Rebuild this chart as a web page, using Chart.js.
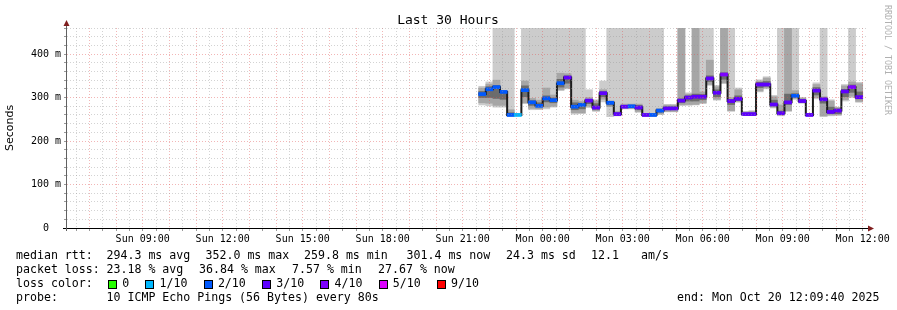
<!DOCTYPE html>
<html>
<head>
<meta charset="utf-8">
<script src="https://cdn.jsdelivr.net/npm/chart.js@4.4.1/dist/chart.umd.min.js"></script>
<style>
  body { margin: 0; background: #fff; }
  #wrap { position: relative; width: 897px; height: 310px; overflow: hidden; background: #fff; }
  #wrap canvas { position: absolute; left: 0; top: 0; }
  .txt { position: absolute; font-family: "DejaVu Sans Mono", monospace; font-size: 11.6px; line-height: 12px; color: #000; white-space: pre; }
  #title { left: 0; width: 896px; text-align: center; top: 12.8px; font-size: 13px; line-height: 14px; }
  #brand { position: absolute; left: 883px; top: 5px; writing-mode: vertical-rl; font-family: "DejaVu Sans Mono", monospace; font-size: 8.3px; line-height: 10px; color: #b0b0b0; white-space: pre; }
</style>
</head>
<body>
<div id="wrap">
  <canvas id="rrd" width="897" height="310"></canvas>
  <div id="title" class="txt">Last 30 Hours</div>
  <div id="brand">RRDTOOL / TOBI OETIKER</div>
  <div id="legend"></div>
</div>
<script>
// time axis, in hours since Sun 00:00
const viewStartHour = 6 + 9 / 60 + 40 / 3600;   // Sun 06:09:40
const viewHours = 30;
const firstSlotHour = 21.6;                      // Sun 21:36, first 16 min slot
const slotHours = 16 / 60;
const dayNames = ['Sun', 'Mon'];

// median rtt of each slot (ms)
const medianRtt = [308, 319, 324, 313, 260, 260, 317, 289, 281, 298, 294, 333, 346, 279, 283, 293, 277, 310,
  288, 262, 279, 280, 277, 260, 260, 270, 275, 275, 293, 300, 302, 302, 344, 311, 353, 292, 297, 262,
  262, 330, 330, 284, 264, 289, 304, 292, 260, 316, 296, 267, 270, 314, 324, 301];

// lost pings (of 10) in each slot
const lostPings = [2, 2, 2, 2, 2, 1, 2, 2, 2, 2, 2, 2, 3, 2, 2, 3, 3, 3, 2, 3, 3, 2, 3, 3, 2, 2, 3, 3, 3, 3, 3, 3,
  3, 3, 4, 3, 3, 3, 3, 3, 3, 3, 3, 3, 2, 3, 3, 3, 3, 3, 3, 3, 4, 3];

// smoke: outer / middle / inner ping spread per slot (ms), 520 = off the top of the graph
const smokeOuter = [[283, 326], [281, 336], [278, 520], [278, 520], [256, 520], [259, 262], [286, 520], [272, 520],
  [272, 520], [274, 520], [278, 520], [316, 520], [320, 520], [262, 520], [263, 520], [277, 318], [268, 295],
  [290, 338], [256, 520], [258, 520], [274, 520], [274, 520], [266, 520], [257, 520], [257, 520], [261, 520],
  [267, 284], [267, 284], [282, 520], [282, 311], [283, 520], [286, 520], [328, 520], [294, 328], [332, 520],
  [268, 520], [289, 322], [259, 268], [259, 270], [313, 341], [320, 348], [276, 305], [258, 520], [268, 520],
  [296, 520], [287, 300], [258, 263], [297, 334], [256, 520], [258, 295], [259, 278], [292, 330], [300, 520],
  [289, 335]];
const smokeMid = [[288, 322], [287, 331], [282, 340], [282, 316], [258, 272], [259, 262], [288, 338], [275, 298],
  [274, 294], [278, 322], [280, 306], [318, 356], [322, 355], [265, 294], [265, 291], [280, 300], [270, 292],
  [296, 318], [279, 292], [259, 268], [275, 285], [275, 285], [268, 285], [257, 263], [257, 263], [262, 275],
  [268, 283], [268, 283], [283, 520], [284, 308], [284, 520], [288, 313], [330, 386], [296, 325], [334, 520],
  [270, 300], [291, 318], [260, 267], [260, 268], [315, 338], [322, 345], [278, 302], [260, 283], [270, 520],
  [298, 316], [288, 299], [258, 262], [300, 330], [258, 302], [260, 292], [260, 277], [295, 327], [303, 336],
  [291, 332]];
const smokeInner = [[300, 314], [300, 325], [298, 328], [296, 313], [259, 265], [259, 262], [302, 327], [282, 293],
  [279, 288], [290, 304], [288, 299], [324, 342], [333, 350], [272, 288], [274, 287], [286, 296], [273, 286],
  [302, 314], [283, 290], [260, 265], [277, 282], [277, 282], [272, 282], [258, 262], [258, 262], [266, 273],
  [272, 279], [272, 279], [288, 297], [292, 304], [292, 308], [295, 307], [337, 350], [302, 318], [342, 357],
  [284, 295], [293, 304], [260, 264], [260, 264], [323, 335], [326, 337], [281, 294], [261, 269], [284, 308],
  [301, 309], [289, 296], [258, 262], [306, 323], [287, 299], [263, 278], [263, 274], [302, 319], [312, 329],
  [297, 313]];

// loss colour legend
const lossLevels = [0, 1, 2, 3, 4, 5, 9];
const lossLabels = ['0', '1/10', '2/10', '3/10', '4/10', '5/10', '9/10'];
const lossColors = ['#26ff00', '#00b8ff', '#0059ff', '#5e00ff', '#7e00ff', '#dd00ff', '#ff0000'];

// y ticks (ms)
const yTop = 460;
const yMinorStep = 20;
const yMajorStep = 100;


function slotCenter(k) {
    return firstSlotHour + (k + 0.5) * slotHours;
}

function lossColor(n) {
    return lossColors[lossLevels.indexOf(n)];
}

function rangeData(pairs) {
    return pairs.map(function (p, k) { return { x: slotCenter(k), y: p }; });
}

// black step line through the medians
const medianLine = medianRtt.map(function (m, k) { return { x: firstSlotHour + k * slotHours, y: m }; });
medianLine.push({ x: firstSlotHour + medianRtt.length * slotHours, y: medianRtt[medianRtt.length - 1] });

// coloured median marks
const medianMarks = medianRtt.map(function (m, k) { return { x: slotCenter(k), y: [m - 3.5, m + 3.5] }; });

const barCommon = { grouped: false, barPercentage: 1, categoryPercentage: 1, borderWidth: 0 };

// axis lines and arrows like rrdtool
const axisArrows = {
    id: 'axisArrows',
    afterDraw(chart) {
        const ctx = chart.ctx;
        const a = chart.chartArea;
        ctx.save();
        ctx.lineWidth = 1;
        ctx.strokeStyle = '#000';
        ctx.beginPath();
        ctx.moveTo(a.left - 4, a.bottom + 0.5);
        ctx.lineTo(a.right + 2, a.bottom + 0.5);
        ctx.stroke();
        ctx.strokeStyle = '#606060';
        ctx.beginPath();
        ctx.moveTo(a.left - 0.5, a.bottom + 3);
        ctx.lineTo(a.left - 0.5, a.top - 3);
        ctx.stroke();
        ctx.fillStyle = '#801f1f';
        ctx.beginPath();
        ctx.moveTo(a.right + 1, a.bottom - 2.5);
        ctx.lineTo(a.right + 7, a.bottom + 0.5);
        ctx.lineTo(a.right + 1, a.bottom + 3.5);
        ctx.fill();
        ctx.beginPath();
        ctx.moveTo(a.left - 3.5, a.top - 2);
        ctx.lineTo(a.left - 0.5, a.top - 8);
        ctx.lineTo(a.left + 2.5, a.top - 2);
        ctx.fill();
        ctx.restore();
    }
};

const gridGray = 'rgba(150,150,150,0.42)';
const gridRed = 'rgba(225,80,80,0.42)';

new Chart(document.getElementById('rrd'), {
    type: 'bar',
    data: {
        datasets: [
            Object.assign({ label: 'smoke outer', data: rangeData(smokeOuter), backgroundColor: '#cccccc', order: 4 }, barCommon),
            Object.assign({ label: 'smoke mid', data: rangeData(smokeMid), backgroundColor: '#a6a6a6', order: 3 }, barCommon),
            Object.assign({ label: 'smoke inner', data: rangeData(smokeInner), backgroundColor: '#6c6c6c', order: 2 }, barCommon),
            {
                type: 'line', label: 'median', data: medianLine, stepped: 'before',
                borderColor: '#1c1c1c', borderWidth: 2, pointRadius: 0, fill: false, order: 1
            },
            Object.assign({
                label: 'median loss', data: medianMarks,
                backgroundColor: lostPings.map(lossColor), order: 0
            }, barCommon)
        ]
    },
    options: {
        responsive: false,
        animation: false,
        devicePixelRatio: 1,
        layout: { padding: { left: 0, right: 30, top: 28, bottom: 62 } },
        plugins: { legend: { display: false }, tooltip: { enabled: false }, title: { display: false } },
        scales: {
            x: {
                type: 'linear',
                min: viewStartHour,
                max: viewStartHour + viewHours,
                offset: false,
                stacked: false,
                afterBuildTicks: function (scale) {
                    const ticks = [];
                    for (let h = Math.ceil(viewStartHour * 2) / 2; h <= viewStartHour + viewHours; h += 0.5) {
                        ticks.push({ value: h });
                    }
                    scale.ticks = ticks;
                },
                afterFit: function (scale) { scale.height = 20; },
                grid: {
                    offset: false, z: 1, lineWidth: 1, drawTicks: true, tickLength: 3, tickColor: 'rgba(0,0,0,0.4)',
                    color: function (c) { return c.tick && Number.isInteger(c.tick.value) ? gridRed : gridGray; }
                },
                border: { display: false, dash: [1, 2] },
                ticks: {
                    autoSkip: false, maxRotation: 0, minRotation: 0, padding: 2, color: '#000',
                    font: { family: 'DejaVu Sans Mono', size: 10 },
                    callback: function (v) {
                        if (!Number.isInteger(v) || v % 3 !== 0) return '';
                        const hh = v % 24;
                        return dayNames[Math.floor(v / 24)] + ' ' + (hh < 10 ? '0' : '') + hh + ':00';
                    }
                }
            },
            y: {
                min: 0,
                max: yTop,
                stacked: false,
                afterBuildTicks: function (scale) {
                    const ticks = [];
                    for (let v = 0; v <= yTop; v += yMinorStep) ticks.push({ value: v });
                    scale.ticks = ticks;
                },
                afterFit: function (scale) { scale.width = 67; },
                title: {
                    display: true, text: 'Seconds', color: '#000',
                    padding: { top: 4, bottom: 0 },
                    font: { family: 'DejaVu Sans', size: 11 }
                },
                grid: {
                    z: 1, lineWidth: 1, drawTicks: true, tickLength: 3, tickColor: 'rgba(0,0,0,0.4)',
                    color: function (c) { return c.tick && c.tick.value % yMajorStep === 0 ? gridRed : gridGray; }
                },
                border: { display: false, dash: [1, 2] },
                ticks: {
                    autoSkip: false, padding: 3, color: '#000',
                    font: { family: 'DejaVu Sans Mono', size: 10 },
                    callback: function (v) {
                        if (v % yMajorStep !== 0) return '';
                        return v === 0 ? '0  ' : v + ' m';
                    }
                }
            }
        }
    },
    plugins: [axisArrows]
});


// legend text under the graph
const legendEl = document.getElementById('legend');

function addText(x, top, text) {
    const d = document.createElement('div');
    d.className = 'txt';
    d.style.left = x + 'px';
    d.style.top = top + 'px';
    d.textContent = text;
    legendEl.appendChild(d);
    return d;
}

const rowTop = [248.5, 262.8, 276.5, 290.5];

[[16, 'median rtt:'], [106.5, '294.3 ms avg'], [205.5, '352.0 ms max'], [304, '259.8 ms min'],
 [406.5, '301.4 ms now'], [506, '24.3 ms sd'], [591, '12.1'], [641, 'am/s']].forEach(function (t) { addText(t[0], rowTop[0], t[1]); });

[[16, 'packet loss:'], [106.5, '23.18 % avg'], [199, '36.84 % max'], [292, '7.57 % min'],
 [378, '27.67 % now']].forEach(function (t) { addText(t[0], rowTop[1], t[1]); });

addText(16, rowTop[2], 'loss color:');
let cx = 108;
lossLabels.forEach(function (lab, i) {
    const b = document.createElement('div');
    b.style.position = 'absolute';
    b.style.left = cx + 'px';
    b.style.top = (rowTop[2] + 3.4) + 'px';
    b.style.width = '7px';
    b.style.height = '7px';
    b.style.border = '1px solid #000';
    b.style.background = lossColors[i];
    legendEl.appendChild(b);
    addText(cx + 14.3, rowTop[2], lab);
    cx += 14.3 + lab.length * 7 + 16;
});

addText(16, rowTop[3], 'probe:');
addText(106.5, rowTop[3], '10 ICMP Echo Pings (56 Bytes) every 80s');
addText(677, rowTop[3], 'end: Mon Oct 20 12:09:40 2025');
</script>
</body>
</html>
